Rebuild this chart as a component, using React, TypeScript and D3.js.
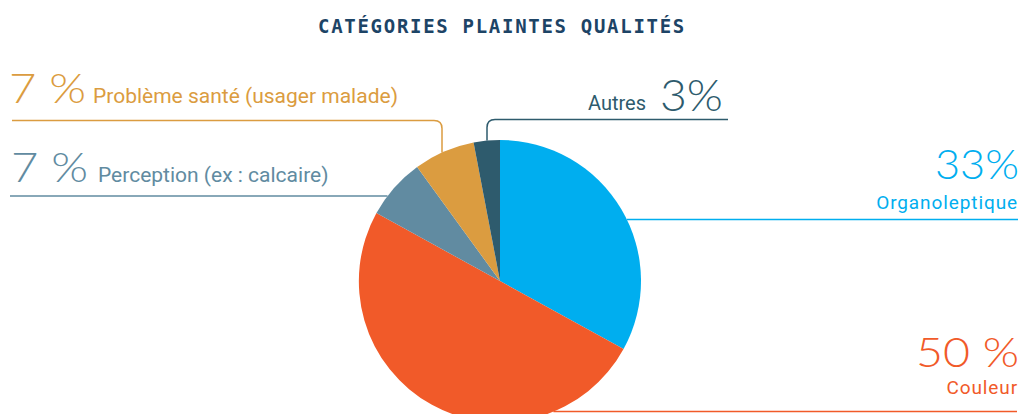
import React from "react";
import * as d3 from "d3";

const categories = ["Organoleptique", "Couleur", "Perception (ex : calcaire)", "Problème santé (usager malade)", "Autres"];
const values = [33, 50, 7, 7, 3];
const valueLabels = ["33%", "50 %", "7 %", "7 %", "3%"];
const colors = ["#00AEEF", "#F15A29", "#618BA1", "#DB9C40", "#2E5B6D"];
const title = "CATÉGORIES PLAINTES QUALITÉS";

const W = 1024;
const H = 414;
const cx = 500;
const cy = 281;
const R = 141;

const numFont = "Lato, 'Open Sans', sans-serif";
const lblFont = "Roboto, 'Open Sans', sans-serif";

export default function App() {
  const pie = d3.pie<number>().sort(null).value((d) => d)(values);
  const arc = d3.arc<d3.PieArcDatum<number>>().innerRadius(0).outerRadius(R);

  const edgeX = (y: number, side: number) => cx + side * Math.sqrt(R * R - (y - cy) * (y - cy));
  const edgeY = (x: number) => cy - Math.sqrt(R * R - (x - cx) * (x - cx));

  const yOrg = 219.5;
  const yCou = 411.5;
  const yPer = 196;
  const ySan = 120.5;
  const yAut = 119.5;
  const xSan = 442;
  const xAut = 487;
  const rc = 8;

  const num = { fontFamily: numFont, fontWeight: 300, lengthAdjust: "spacingAndGlyphs" as const };

  return (
    <div style={{ position: "fixed", left: 0, top: 0, width: W, height: H, overflow: "hidden" }}>
      <svg width={W} height={H} style={{ display: "block", background: "#fff" }}>
        <text
          x={502}
          y={33}
          textAnchor="middle"
          fontFamily="'DejaVu Sans Mono', monospace"
          fontWeight="bold"
          fontSize={19}
          letterSpacing={1.7}
          fill="#1D4466"
        >
          {title}
        </text>
        <g transform={`translate(${cx},${cy})`}>
          {pie.map((p, i) => (
            <path key={i} d={arc(p) || ""} fill={colors[i]} />
          ))}
        </g>

        {/* Organoleptique */}
        <line x1={edgeX(yOrg, 1)} x2={1018} y1={yOrg} y2={yOrg} stroke={colors[0]} strokeWidth={1.5} />
        <text x={935} y={178.5} {...num} textLength={84} fontSize={41} fill={colors[0]}>
          {valueLabels[0]}
        </text>
        <text x={1018} y={208.5} textAnchor="end" fontFamily={lblFont} fontSize={19} letterSpacing={0.9} fill={colors[0]}>
          {categories[0]}
        </text>

        {/* Couleur */}
        <line x1={edgeX(yCou, 1)} x2={1017} y1={yCou} y2={yCou} stroke={colors[1]} strokeWidth={1.5} />
        <text x={916} y={367} {...num} textLength={103} fontSize={42} fill={colors[1]}>
          {valueLabels[1]}
        </text>
        <text x={1018} y={394} textAnchor="end" fontFamily={lblFont} fontSize={19} letterSpacing={0.9} fill={colors[1]}>
          {categories[1]}
        </text>

        {/* Perception */}
        <line x1={10} x2={edgeX(yPer, -1)} y1={yPer} y2={yPer} stroke={colors[2]} strokeWidth={1.5} />
        <text x={11} y={182} {...num} textLength={77} fontSize={42} fill={colors[2]}>
          {valueLabels[2]}
        </text>
        <text x={98} y={182} fontFamily={lblFont} fontSize={21} fill={colors[2]}>
          {categories[2]}
        </text>

        {/* Problème santé */}
        <path
          d={`M12,${ySan} H${xSan - rc} Q${xSan},${ySan} ${xSan},${ySan + rc} V${edgeY(xSan)}`}
          fill="none"
          stroke={colors[3]}
          strokeWidth={1.5}
        />
        <text x={9} y={102.5} {...num} textLength={77} fontSize={42} fill={colors[3]}>
          {valueLabels[3]}
        </text>
        <text x={93} y={102.5} fontFamily={lblFont} fontSize={21} fill={colors[3]}>
          {categories[3]}
        </text>

        {/* Autres */}
        <path
          d={`M728,${yAut} H${xAut + rc} Q${xAut},${yAut} ${xAut},${yAut + rc} V${edgeY(xAut)}`}
          fill="none"
          stroke={colors[4]}
          strokeWidth={1.5}
        />
        <text x={646} y={110} textAnchor="end" fontFamily={lblFont} fontSize={20} fill={colors[4]}>
          {categories[4]}
        </text>
        <text x={660} y={110.5} {...num} textLength={63} fontSize={43} fill={colors[4]}>
          {valueLabels[4]}
        </text>
      </svg>
    </div>
  );
}
